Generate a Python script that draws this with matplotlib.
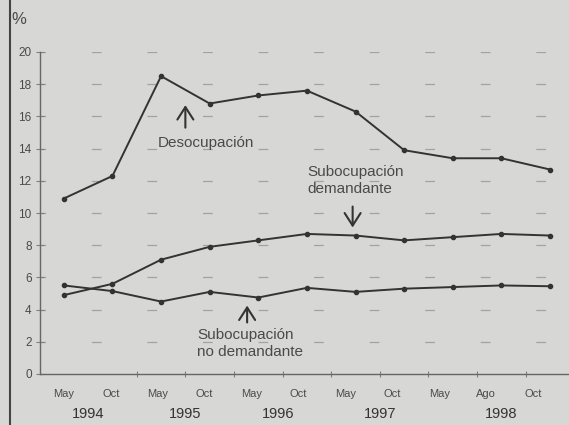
import numpy as np
import matplotlib.pyplot as plt
from matplotlib.lines import Line2D

plt.rcParams['font.family'] = ['Liberation Sans', 'DejaVu Sans']
plt.rcParams['lines.scale_dashes'] = False

# Datos (%)
meses = ["May", "Oct", "May", "Oct", "May", "Oct", "May", "Oct", "May", "Ago", "Oct"]
anios = ["1994", "1995", "1996", "1997", "1998"]
anio_pos = [0.5, 2.5, 4.4, 6.5, 9.0]

desocupacion = [10.9, 12.3, 18.5, 16.8, 17.3, 17.6, 16.3, 13.9, 13.4, 13.4, 12.7]
sub_demandante = [4.9, 5.6, 7.1, 7.9, 8.3, 8.7, 8.6, 8.3, 8.5, 8.7, 8.6]
sub_no_demandante = [5.5, 5.15, 4.5, 5.1, 4.75, 5.35, 5.1, 5.3, 5.4, 5.5, 5.45]

bg = "#d7d7d5"
ink = "#333333"
txt = "#4a4a4a"

fig = plt.figure(figsize=(5.69, 4.25), dpi=100, facecolor=bg)
ax = fig.add_axes([40 / 569, 51 / 425, 529 / 569, 322 / 425], facecolor=bg)

x = np.arange(len(meses))
for serie in [desocupacion, sub_demandante, sub_no_demandante]:
    ax.plot(x, serie, color=ink, lw=1.4, marker="o", ms=3, mfc=ink, mec=ink)

ax.set_xlim(-0.49, 10.39)
ax.set_ylim(0, 20)

# líneas de guía a trazos
for yv in range(2, 21, 2):
    ax.axhline(yv, color="#a2a2a2", lw=0.9, linestyle=(3, (7, 33)), zorder=0)

ax.spines["top"].set_visible(False)
ax.spines["right"].set_visible(False)
for s in ["left", "bottom"]:
    ax.spines[s].set_color("#666666")
    ax.spines[s].set_linewidth(1.0)

ax.set_yticks(range(0, 21, 2))
ax.tick_params(axis="y", direction="inout", length=6, colors="#808080",
               labelcolor=txt, labelsize=8.5, pad=3)
ax.set_xticks(np.arange(1.5, 10, 1.0))
ax.tick_params(axis="x", direction="inout", length=5, colors="#808080", labelbottom=False)

# etiquetas de meses y años
for i, m in enumerate(meses):
    ax.text(i * 0.965, -1.25, m, ha="center", va="center", fontsize=8, color=txt)
for p, a in zip(anio_pos, anios):
    ax.text(p, -2.5, a, ha="center", va="center", fontsize=10.5, color=ink)

fig.text(19 / 569, 1 - 19 / 425, "%", ha="center", va="center", fontsize=12, color=txt)

# anotaciones
arrow = dict(arrowstyle="->,head_length=0.5,head_width=0.32", color=ink, lw=1.5,
             mutation_scale=18, shrinkA=0, shrinkB=0)
ax.annotate("", xy=(2.5, 16.7), xytext=(2.5, 15.3), arrowprops=arrow)
ax.text(1.93, 14.35, "Desocupación", fontsize=11, color=txt, va="center")

ax.annotate("", xy=(5.94, 9.1), xytext=(5.94, 10.4), arrowprops=arrow)
ax.text(5.0, 12.0, "Subocupación\ndemandante", fontsize=11, color=txt,
        va="center", linespacing=1.25)

ax.annotate("", xy=(3.77, 4.25), xytext=(3.77, 3.2), arrowprops=arrow)
ax.text(2.74, 1.9, "Subocupación\nno demandante", fontsize=11, color=txt,
        va="center", linespacing=1.25)

# borde vertical izquierdo del recorte
fig.add_artist(Line2D([10 / 569, 10 / 569], [0, 1], transform=fig.transFigure,
                      color="#444444", lw=1.5))

fig.savefig("out.png", dpi=100, facecolor=bg)
